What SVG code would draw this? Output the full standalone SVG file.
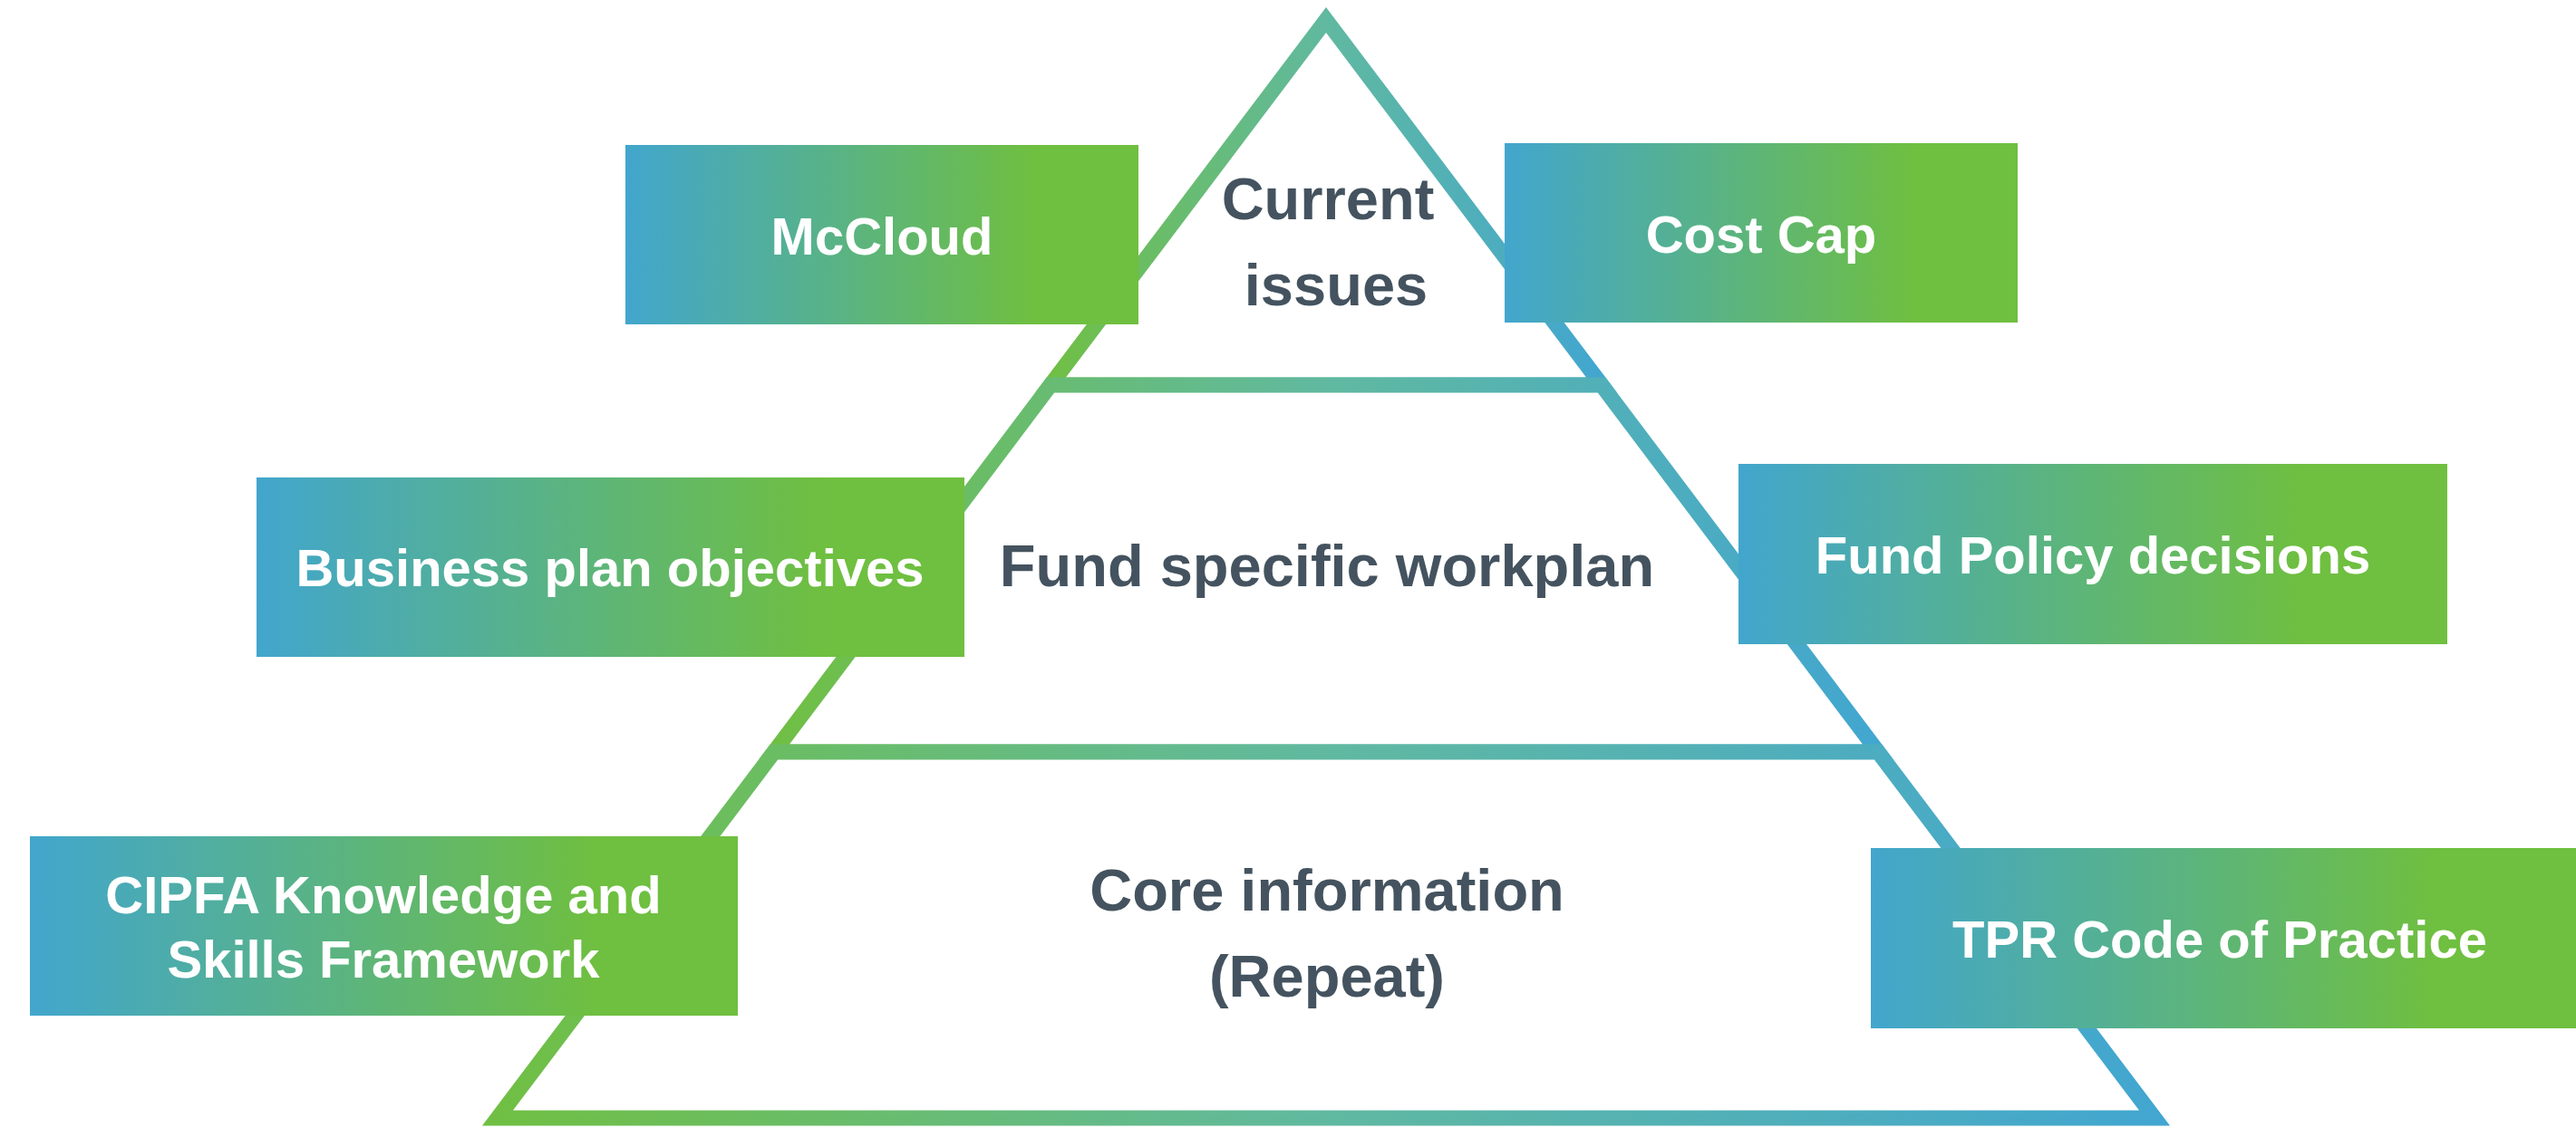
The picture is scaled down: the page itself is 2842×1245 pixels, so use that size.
<svg xmlns="http://www.w3.org/2000/svg" width="2842" height="1245" viewBox="0 0 2842 1245">
  <defs>
    <linearGradient id="tierGrad" x1="0" y1="0" x2="1" y2="0">
      <stop offset="0" stop-color="#70bf44"/>
      <stop offset="0.5" stop-color="#60b9a0"/>
      <stop offset="1" stop-color="#42a6d0"/>
    </linearGradient>
    <linearGradient id="boxGrad" x1="0" y1="0" x2="1" y2="0">
      <stop offset="0" stop-color="#42a6cd"/>
      <stop offset="0.8" stop-color="#6fbf40"/>
      <stop offset="1" stop-color="#6fbf40"/>
    </linearGradient>
  </defs>
  <style>
    .tier { fill: #ffffff; stroke: url(#tierGrad); stroke-width: 17; stroke-linejoin: miter; }
    .box { fill: url(#boxGrad); }
    .tlabel { font-family: "Liberation Sans", Arial, sans-serif; font-weight: bold; font-size: 65px; fill: #44535f; text-anchor: middle; }
    .blabel { font-family: "Liberation Sans", Arial, sans-serif; font-weight: bold; font-size: 58px; fill: #ffffff; text-anchor: middle; }
  </style>
  <rect width="2842" height="1245" fill="#ffffff"/>

  <g id="tier-top">
    <polygon class="tier" points="1463,22 1767,425 1159,425"/>
    <text class="tlabel" x="1465" y="242">Current</text>
    <text class="tlabel" x="1474" y="337">issues</text>
  </g>
  <g id="tier-middle">
    <polygon class="tier" points="1159,425 1767,425 2072,830 854,830"/>
    <text class="tlabel" x="1464" y="647">Fund specific workplan</text>
  </g>
  <g id="tier-bottom">
    <polygon class="tier" points="854,830 2072,830 2377,1234 549,1234"/>
    <text class="tlabel" x="1464" y="1005">Core information</text>
    <text class="tlabel" x="1464" y="1100">(Repeat)</text>
  </g>

  <g id="box-mccloud">
    <rect class="box" x="690" y="160" width="566" height="198"/>
    <text class="blabel" x="973" y="281">McCloud</text>
  </g>
  <g id="box-costcap">
    <rect class="box" x="1660" y="158" width="566" height="198"/>
    <text class="blabel" x="1943" y="279">Cost Cap</text>
  </g>
  <g id="box-business">
    <rect class="box" x="283" y="527" width="781" height="198"/>
    <text class="blabel" x="673" y="647">Business plan objectives</text>
  </g>
  <g id="box-fundpolicy">
    <rect class="box" x="1918" y="512" width="782" height="199"/>
    <text class="blabel" x="2309" y="633">Fund Policy decisions</text>
  </g>
  <g id="box-cipfa">
    <rect class="box" x="33" y="923" width="781" height="198"/>
    <text class="blabel" x="423" y="1008">CIPFA Knowledge and</text>
    <text class="blabel" x="423" y="1079">Skills Framework</text>
  </g>
  <g id="box-tpr">
    <rect class="box" x="2064" y="936" width="778" height="199"/>
    <text class="blabel" x="2449" y="1057">TPR Code of Practice</text>
  </g>
</svg>
